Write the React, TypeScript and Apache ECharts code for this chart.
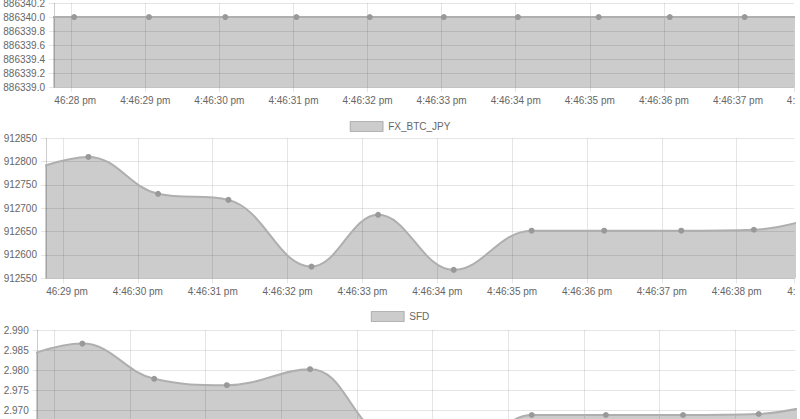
import { useEffect, useRef } from 'react'
import * as echarts from 'echarts'

// seconds after 4:46:00 pm
const btcTimes = [27.05, 28.04, 29.05, 30.08, 31.04, 32.03, 33.03, 34.03, 35.12, 36.08, 37.09, 38.1]
const btcValues = [886340, 886340, 886340, 886340, 886340, 886340, 886340, 886340, 886340, 886340, 886340, 886340]
const btcTickLabels = ['46:28 pm', '4:46:29 pm', '4:46:30 pm', '4:46:31 pm', '4:46:32 pm', '4:46:33 pm', '4:46:34 pm', '4:46:35 pm', '4:46:36 pm', '4:46:37 pm']

const fxTimes = [28.32, 29.34, 30.27, 31.21, 32.32, 33.21, 34.22, 35.26, 36.23, 37.26, 38.23, 39.25]
const fxValues = [912765, 912810, 912731, 912718, 912575, 912686, 912568, 912652, 912652, 912652, 912654, 912690]
const fxTickLabels = ['46:29 pm', '4:46:30 pm', '4:46:31 pm', '4:46:32 pm', '4:46:33 pm', '4:46:34 pm', '4:46:35 pm', '4:46:36 pm', '4:46:37 pm', '4:46:38 pm']

const sfdTimes = [28.35, 29.37, 30.32, 31.28, 32.38, 33.3, 34.3, 35.31, 36.29, 37.31, 38.31, 39.3]
const sfdValues = [2.9815, 2.9866, 2.9778, 2.9762, 2.9802, 2.9638, 2.957, 2.96875, 2.96875, 2.96875, 2.969, 2.9725]

const EDGE_LABEL = '4:'

const FONT = '"Liberation Sans", Arial, Helvetica, sans-serif'
const TEXT = '#666'
const GRID = 'rgba(0,0,0,0.1)'
const FILL = 'rgba(0,0,0,0.2)'
const LINE = '#afafaf'
const POINT = '#999'

const labelFont = { color: TEXT, fontFamily: FONT, fontSize: 10 }

function makeX(gridIndex: number, min: number, max: number, first: number, labels: string[], show: boolean) {
  return {
    type: 'value',
    gridIndex,
    min,
    max,
    minInterval: 1,
    maxInterval: 1,
    splitNumber: 10,
    axisLine: { show: true, onZero: false, lineStyle: { color: GRID } },
    axisTick: { show: true, length: 5, lineStyle: { color: GRID } },
    splitLine: { show: true, showMaxLine: false, lineStyle: { color: GRID } },
    axisLabel: {
      show,
      margin: 8,
      ...labelFont,
      showMinLabel: false,
      showMaxLabel: true,
      formatter: (v: number) => {
        if (Math.abs(v - max) < 1e-6) return `{r|${EDGE_LABEL}}`
        if (Math.abs(v - Math.round(v)) > 1e-6) return ''
        const i = Math.round(v) - first
        if (i === 0) return `{l|${labels[0]}}`
        return labels[i] ?? ''
      },
      rich: {
        l: { ...labelFont, padding: [0, 0, 0, 8] },
        r: { ...labelFont, padding: [0, 6, 0, 0] }
      }
    }
  }
}

function makeY(gridIndex: number, min: number, max: number, interval: number, digits: number, showMin = true) {
  return {
    type: 'value',
    gridIndex,
    min,
    max,
    interval,
    axisLine: { show: true, lineStyle: { color: GRID } },
    axisTick: { show: true, length: 5, lineStyle: { color: GRID } },
    splitLine: { show: true, lineStyle: { color: GRID } },
    axisLabel: {
      margin: 9,
      ...labelFont,
      showMinLabel: showMin,
      formatter: (v: number) => v.toFixed(digits)
    }
  }
}

function makeSeries(name: string, idx: number, times: number[], values: number[]) {
  return {
    type: 'line',
    name,
    xAxisIndex: idx,
    yAxisIndex: idx,
    data: times.map((t, k) => [t, values[k]]),
    smooth: 0.4,
    clip: true,
    symbol: 'circle',
    symbolSize: 6,
    showAllSymbol: true,
    itemStyle: { color: POINT },
    lineStyle: { color: LINE, width: 2 },
    areaStyle: { color: FILL, opacity: 1, origin: 'start' },
    emphasis: { disabled: true }
  }
}

function makeLegend(name: string, top: number) {
  return {
    data: [{ name }],
    left: 'center',
    top,
    icon: 'rect',
    itemWidth: 33,
    itemHeight: 10,
    selectedMode: false,
    itemStyle: { color: FILL, borderColor: 'rgba(0,0,0,0.22)', borderWidth: 1 },
    textStyle: { ...labelFont }
  }
}

export default function App() {
  const chartRef = useRef<HTMLDivElement>(null)

  useEffect(() => {
    if (!chartRef.current) return
    const chart = echarts.init(chartRef.current, undefined, { renderer: 'svg' })

    const option: any = {
      animation: false,
      legend: [makeLegend('FX_BTC_JPY', 116), makeLegend('SFD', 306)],
      grid: [
        { left: 54, right: 6, top: 3, height: 84.3, outerBoundsMode: 'none' },
        { left: 46, right: 5.7, top: 138.3, height: 140, outerBoundsMode: 'none' },
        { left: 37.7, right: 5, top: 330, height: 100, outerBoundsMode: 'none' }
      ],
      xAxis: [
        makeX(0, 27.768, 37.756, 28, btcTickLabels, true),
        makeX(1, 28.773, 38.77, 29, fxTickLabels, true),
        makeX(2, 28.78, 38.79, 29, [], false)
      ],
      yAxis: [
        makeY(0, 886339.0, 886340.2, 0.2, 1),
        makeY(1, 912550, 912850, 50, 0),
        makeY(2, 2.965, 2.99, 0.005, 3, false)
      ],
      series: [
        makeSeries('BTC_JPY', 0, btcTimes, btcValues),
        makeSeries('FX_BTC_JPY', 1, fxTimes, fxValues),
        makeSeries('SFD', 2, sfdTimes, sfdValues)
      ]
    }

    chart.setOption(option)

    return () => {
      chart.dispose()
    }
  }, [])

  return (
    <div style={{ position: 'fixed', left: 0, top: 0, width: 800, height: 419, background: '#fff' }}>
      <div ref={chartRef} style={{ width: 800, height: 419 }} />
    </div>
  )
}
